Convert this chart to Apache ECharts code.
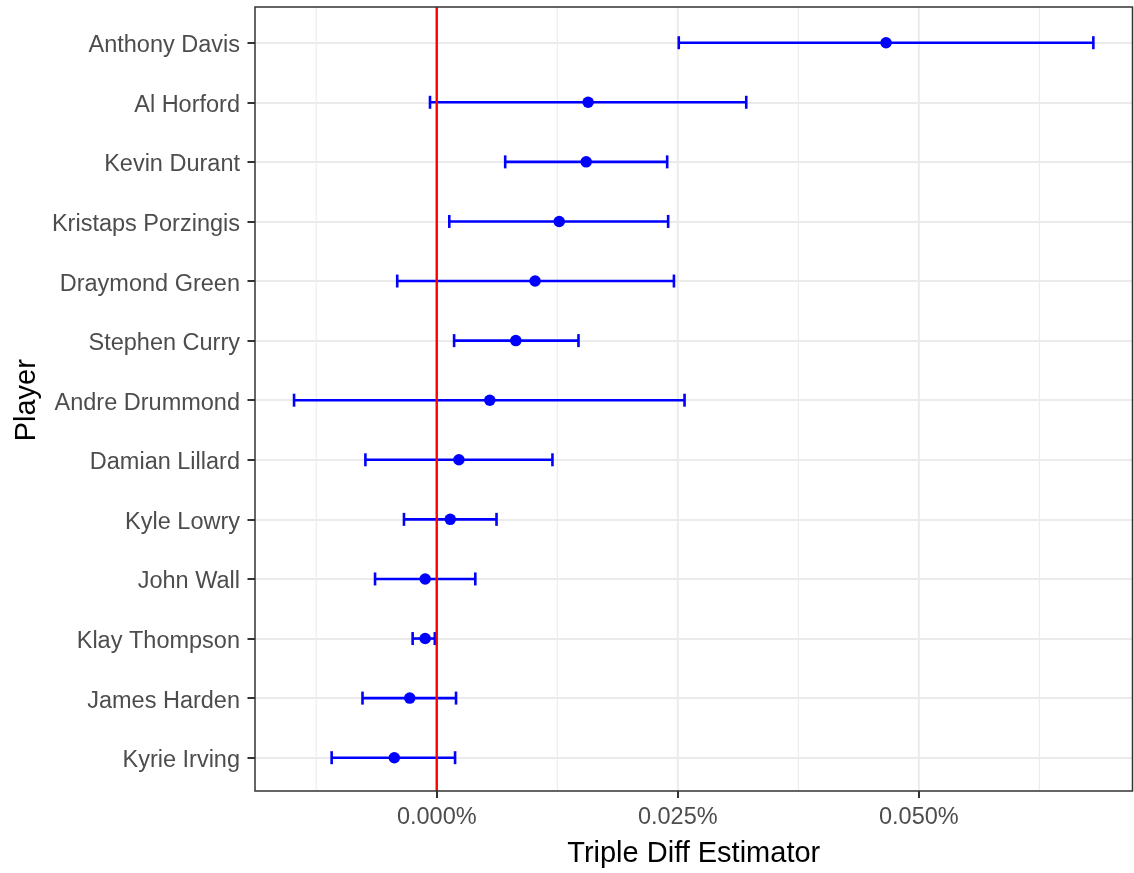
<!DOCTYPE html>
<html>
<head>
<meta charset="utf-8">
<title>Triple Diff Estimator by Player</title>
<script src="https://cdn.jsdelivr.net/npm/echarts@6/dist/echarts.min.js"></script>
<style>
  html, body { margin: 0; padding: 0; background: #fff; }
  #chart { width: 1134px; height: 873px; }
</style>
</head>
<body>
<div id="chart"></div>
<script>
// players, top to bottom
var players = ['Anthony Davis', 'Al Horford', 'Kevin Durant', 'Kristaps Porzingis',
    'Draymond Green', 'Stephen Curry', 'Andre Drummond', 'Damian Lillard',
    'Kyle Lowry', 'John Wall', 'Klay Thompson', 'James Harden', 'Kyrie Irving'];

// estimates and interval bounds, in percent
var estimate = [0.0466, 0.0157, 0.0155, 0.0127, 0.0102, 0.0082, 0.0055, 0.0023,
    0.0014, -0.0012, -0.0012, -0.0028, -0.0044];
var lower = [0.0251, -0.0007, 0.0071, 0.0013, -0.0041, 0.0018, -0.0148, -0.0074,
    -0.0034, -0.0064, -0.0025, -0.0077, -0.0109];
var upper = [0.0681, 0.0321, 0.0239, 0.0240, 0.0246, 0.0147, 0.0257, 0.0120,
    0.0062, 0.0040, -0.0002, 0.0020, 0.0019];

var xTicks = [0, 0.025, 0.05];
var xMinor = [-0.0125, 0.0125, 0.0375, 0.0625];
var xMin = -0.01885, xMax = 0.07216;

var font = 'Liberation Sans, Arial, sans-serif';
var chart = echarts.init(document.getElementById('chart'));

var barData = players.map(function (p, i) {
    return [lower[i], upper[i], i];
});
var pointData = players.map(function (p, i) {
    return [estimate[i], i];
});
// [x, width, colour] for full-height vertical lines
var vlineData = xMinor.map(function (v) { return [v, 1.1, '#EBEBEB']; })
    .concat(xTicks.map(function (v) { return [v, 2, '#EBEBEB']; }));

function renderBar(params, api) {
    var y = api.value(2);
    var a = api.coord([api.value(0), y]);
    var b = api.coord([api.value(1), y]);
    var cap = 6.5;
    var style = { stroke: '#0000FF', lineWidth: 2.6 };
    return {
        type: 'group',
        children: [
            { type: 'line', shape: { x1: a[0], y1: a[1], x2: b[0], y2: b[1] }, style: style },
            { type: 'line', shape: { x1: a[0], y1: a[1] - cap, x2: a[0], y2: a[1] + cap }, style: style },
            { type: 'line', shape: { x1: b[0], y1: b[1] - cap, x2: b[0], y2: b[1] + cap }, style: style }
        ]
    };
}

function vline(color, width) {
    return function (params, api) {
        var t = api.coord([api.value(0), 1]);
        var b = api.coord([api.value(0), 0]);
        return {
            type: 'line',
            shape: { x1: t[0], y1: t[1], x2: b[0], y2: b[1] },
            style: { stroke: color || vlineData[params.dataIndex][2], lineWidth: width || vlineData[params.dataIndex][1] }
        };
    };
}

var option = {
    animation: false,
    backgroundColor: '#fff',
    grid: [
        // frame
        { left: 255, right: 1.5, top: 7, bottom: 80.5, show: true, borderColor: '#333333', borderWidth: 1.5, backgroundColor: 'transparent', z: 10 },
        // rows
        { left: 255, right: 1.5, top: 42.7, bottom: 115.3 }
    ],
    xAxis: [
        {
            gridIndex: 0, type: 'value', min: xMin, max: xMax,
            axisLine: { show: false, onZero: false },
            axisTick: { show: true, length: 7, lineStyle: { color: '#333333', width: 2 }, customValues: xTicks },
            axisLabel: {
                customValues: xTicks, margin: 15, fontSize: 23.5, color: '#4D4D4D', fontFamily: font,
                formatter: function (v) { return v.toFixed(3) + '%'; }
            },
            splitLine: { show: false },
            minorSplitLine: { show: false },
            name: 'Triple Diff Estimator', nameLocation: 'middle', nameGap: 48,
            nameTextStyle: { fontSize: 29, color: '#000', fontFamily: font }
        },
        {
            gridIndex: 1, type: 'value', min: xMin, max: xMax,
            axisLine: { show: false, onZero: false }, axisTick: { show: false },
            axisLabel: { show: false }, splitLine: { show: false }
        }
    ],
    yAxis: [
        {
            gridIndex: 0, type: 'value', min: 0, max: 1,
            axisLine: { show: false, onZero: false }, axisTick: { show: false },
            axisLabel: { show: false }, splitLine: { show: false }
        },
        {
            gridIndex: 1, type: 'category', data: players, inverse: true, boundaryGap: false,
            axisLine: { show: false, onZero: false },
            axisTick: { show: true, length: 7.5, lineStyle: { color: '#333333', width: 2 } },
            axisLabel: {
                margin: 15,
                formatter: function (v) { return '{n|' + v + '}'; },
                rich: { n: { fontSize: 23.5, color: '#4D4D4D', fontFamily: font, padding: [6, 0, 0, 0] } }
            },
            splitLine: { show: true, lineStyle: { color: '#EBEBEB', width: 2.2 } },
            name: 'Player', nameLocation: 'middle', nameGap: 208, nameRotate: 90,
            nameTextStyle: { fontSize: 29, color: '#000', fontFamily: font }
        }
    ],
    series: [
        {
            // vertical grid lines
            type: 'custom', xAxisIndex: 0, yAxisIndex: 0, renderItem: vline(),
            data: vlineData, encode: { x: 0 }, silent: true, z: 1
        },
        {
            type: 'custom', xAxisIndex: 1, yAxisIndex: 1, renderItem: renderBar,
            data: barData, encode: { x: [0, 1], y: 2 }, z: 3, silent: true
        },
        {
            type: 'scatter', xAxisIndex: 1, yAxisIndex: 1, data: pointData,
            symbol: 'circle', symbolSize: 11.5, itemStyle: { color: '#0000FF', opacity: 1 }, z: 4, silent: true
        },
        {
            // zero reference line
            type: 'custom', xAxisIndex: 0, yAxisIndex: 0, renderItem: vline('#FF0000', 2.4),
            data: [[0]], encode: { x: 0 }, silent: true, z: 5
        }
    ]
};

chart.setOption(option);
</script>
</body>
</html>
